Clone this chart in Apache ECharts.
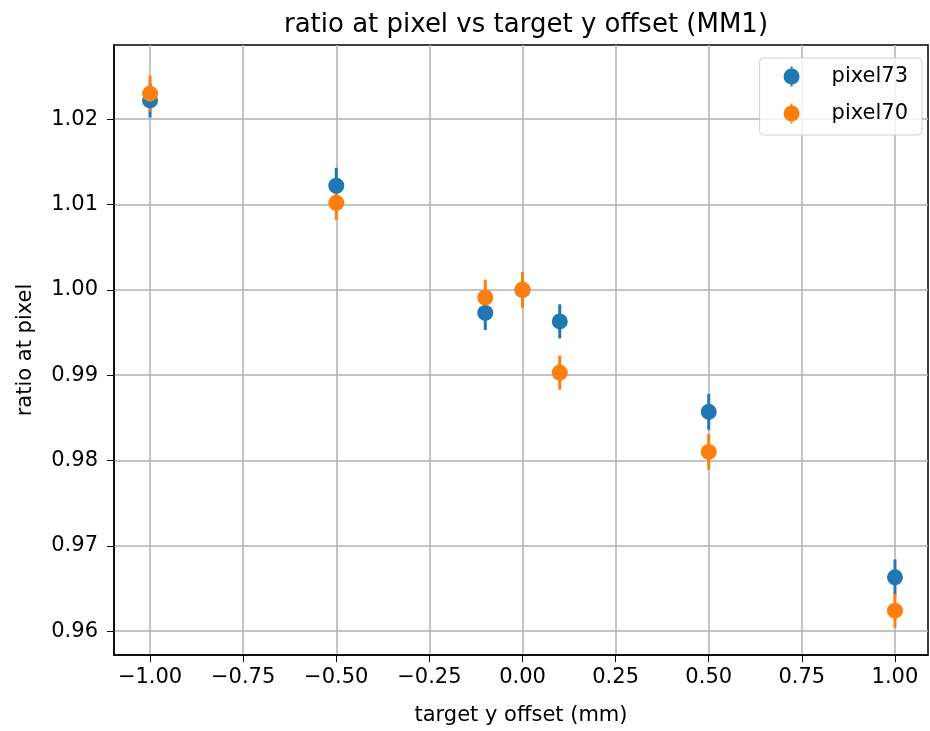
<!DOCTYPE html>
<html>
<head>
    <meta charset="utf-8">
    <title>ratio at pixel vs target y offset (MM1)</title>
    <style>
        html, body { margin: 0; padding: 0; background: #fff; }
        #chart_main { width: 930px; height: 731px; }
    </style>
</head>
<body>
    <div id="chart_main"></div>
    <script src="https://cdn.jsdelivr.net/npm/echarts@6/dist/echarts.min.js"></script>
    <script>
        // data
        var offsets = [-1.0, -0.5, -0.1, 0.0, 0.1, 0.5, 1.0];
        var pixel73 = [1.0222, 1.0122, 0.9973, 1.0000, 0.9963, 0.9857, 0.9663];
        var pixel73Err = [0.0020, 0.0021, 0.0020, 0.0020, 0.0020, 0.0021, 0.0021];
        var pixel70 = [1.0230, 1.0102, 0.9991, 1.0000, 0.9903, 0.9810, 0.9624];
        var pixel70Err = [0.0021, 0.0020, 0.0021, 0.0021, 0.0020, 0.0021, 0.0020];
        var xTicks = [-1.0, -0.75, -0.5, -0.25, 0.0, 0.25, 0.5, 0.75, 1.0];
        var yTicks = [0.96, 0.97, 0.98, 0.99, 1.00, 1.01, 1.02];

        var blue = '#1f77b4';
        var orange = '#ff7f0e';
        var font = 'DejaVu Sans';
        // marker with a vertical error bar, for the legend
        var legendIcon = 'path://M7,0 h2 v20 h-2 z M8,2 a8,8 0 1,1 0,16 a8,8 0 1,1 0,-16 z';

        function points(ys) {
            var out = [];
            for (var i = 0; i < offsets.length; i++) {
                out.push([offsets[i], ys[i]]);
            }
            return out;
        }

        function errData(ys, errs) {
            var out = [];
            for (var i = 0; i < offsets.length; i++) {
                out.push([offsets[i], ys[i] - errs[i], ys[i] + errs[i]]);
            }
            return out;
        }

        function errSeries(name, ys, errs, color) {
            return {
                name: name,
                type: 'custom',
                data: errData(ys, errs),
                renderItem: function (params, api) {
                    var lo = api.coord([api.value(0), api.value(1)]);
                    var hi = api.coord([api.value(0), api.value(2)]);
                    return {
                        type: 'line',
                        shape: { x1: lo[0], y1: lo[1], x2: hi[0], y2: hi[1] },
                        style: { stroke: color, lineWidth: 3 }
                    };
                },
                silent: true
            };
        }

        function dotSeries(name, ys, color) {
            return {
                name: name,
                type: 'scatter',
                data: points(ys),
                symbol: 'circle',
                symbolSize: 16,
                itemStyle: { color: color, opacity: 1 }
            };
        }

        var myChart = echarts.init(document.getElementById('chart_main'), null, { renderer: 'canvas' });

        var option = {
            animation: false,
            backgroundColor: '#fff',
            title: {
                text: 'ratio at pixel vs target y offset (MM1)',
                left: 521,
                top: 7,
                textAlign: 'center',
                textStyle: { fontFamily: font, fontSize: 26, fontWeight: 'normal', color: '#000' }
            },
            legend: {
                right: 8,
                top: 58,
                orient: 'vertical',
                padding: [8, 14, 11, 24],
                itemGap: 16,
                itemWidth: 16,
                itemHeight: 20,
                borderColor: '#d0d0d0',
                borderWidth: 1,
                borderRadius: 4,
                backgroundColor: 'rgba(255,255,255,0.8)',
                textStyle: { fontFamily: font, fontSize: 21, color: '#000', padding: [0, 0, 0, 27] },
                data: [
                    { name: 'pixel73', icon: legendIcon, itemStyle: { color: blue } },
                    { name: 'pixel70', icon: legendIcon, itemStyle: { color: orange } }
                ]
            },
            grid: {
                left: 114, right: 2, top: 45, bottom: 76, containLabel: false,
                show: true, borderColor: '#000', borderWidth: 1.5, backgroundColor: 'transparent'
            },
            xAxis: {
                type: 'value',
                min: -1.0968,
                max: 1.0887,
                name: 'target y offset (mm)',
                nameLocation: 'middle',
                nameGap: 50,
                nameTextStyle: { fontFamily: font, fontSize: 21, color: '#000' },
                axisLine: { onZero: false, lineStyle: { color: '#000', width: 1.5 } },
                axisTick: { show: true, length: 7, customValues: xTicks, lineStyle: { color: '#000' } },
                axisLabel: {
                    customValues: xTicks,
                    fontFamily: font, fontSize: 21, color: '#000', margin: 12,
                    formatter: function (v) { return v.toFixed(2).replace('-', '\u2212'); }
                },
                splitLine: { show: true, lineStyle: { color: '#b0b0b0', width: 1.5 } }
            },
            yAxis: {
                type: 'value',
                min: 0.9572,
                max: 1.0287,
                name: 'ratio at pixel',
                nameLocation: 'middle',
                nameGap: 78,
                nameTextStyle: { fontFamily: font, fontSize: 21, color: '#000' },
                axisLine: { show: true, onZero: false, lineStyle: { color: '#000', width: 1.5 } },
                axisTick: { show: true, length: 7, customValues: yTicks, lineStyle: { color: '#000' } },
                axisLabel: {
                    customValues: yTicks,
                    fontFamily: font, fontSize: 21, color: '#000', margin: 16,
                    formatter: function (v) { return v.toFixed(2); }
                },
                splitLine: { show: true, lineStyle: { color: '#b0b0b0', width: 1.5 } }
            },
            series: [
                errSeries('pixel73', pixel73, pixel73Err, blue),
                dotSeries('pixel73', pixel73, blue),
                errSeries('pixel70', pixel70, pixel70Err, orange),
                dotSeries('pixel70', pixel70, orange)
            ]
        };

        myChart.setOption(option);
    </script>
</body>
</html>
